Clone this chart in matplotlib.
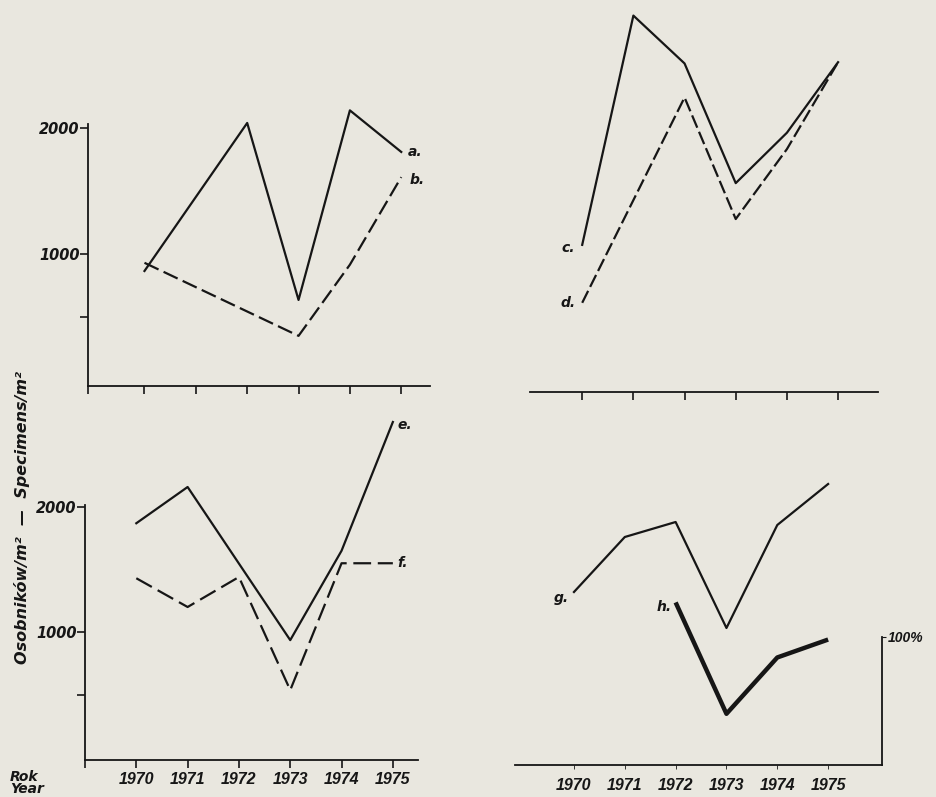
import matplotlib.pyplot as plt
from matplotlib.ticker import FixedLocator

# --- data ---
years = [1970, 1971, 1972, 1973, 1974, 1975]

a_years = [1970, 1972, 1973, 1974, 1975]
a_vals = [865, 2040, 635, 2140, 1810]
b_years = [1970, 1973, 1974, 1975]
b_vals = [930, 350, 915, 1610]

c_years = [1970, 1971, 1972, 1973, 1974, 1975]
c_vals = [1120, 2940, 2560, 1610, 2010, 2570]
d_years = [1970, 1972, 1973, 1974, 1975]
d_vals = [660, 2290, 1325, 1880, 2570]

e_years = [1970, 1971, 1973, 1974, 1975]
e_vals = [1870, 2160, 935, 1650, 2680]
f_years = [1970, 1971, 1972, 1973, 1974, 1975]
f_vals = [1430, 1200, 1440, 535, 1550, 1550]

g_years = [1970, 1971, 1972, 1973, 1974, 1975]
g_vals = [1384, 1824, 1944, 1096, 1920, 2248]
h_years = [1972, 1973, 1974, 1975]
h_pct = [127, 40, 84, 98]

ytick_vals = [500, 1000, 2000]
ytick_labels = ["", "1000", "2000"]

W, H = 937, 797
BG = "#e9e7df"
INK = "#161616"
BI = dict(fontweight="bold", fontstyle="italic", color=INK)
NARROW = ["Liberation Sans", "DejaVu Sans"]

fig = plt.figure(figsize=(W / 100, H / 100), dpi=100, facecolor=BG)


def px_axes(x0, y0, x1, y1):
    return fig.add_axes([x0 / W, 1 - y1 / H, (x1 - x0) / W, (y1 - y0) / H])


def style(ax):
    ax.set_facecolor("none")
    for s in ax.spines.values():
        s.set_color(INK)
        s.set_linewidth(1.3)
    ax.spines["top"].set_visible(False)
    ax.spines["right"].set_visible(False)
    ax.tick_params(colors=INK, width=1.2)


def tag(ax, x, y, txt, dx, dy, ha="left"):
    ax.annotate(txt, (x, y), xytext=(dx, dy), textcoords="offset points",
                ha=ha, va="center", fontsize=10, **BI)


# ---- top left: a, b ----
ax1 = px_axes(88, 95, 430, 386)
style(ax1)
ax1.plot(a_years, a_vals, color=INK, lw=1.6)
ax1.plot(b_years, b_vals, color=INK, lw=1.6, dashes=(7, 2.5))
ax1.set_xlim(1968.9, 1975.56)
ax1.set_ylim(-48, 2262)
ax1.spines["left"].set_bounds(-48, 2030)
ax1.set_xticks([1968.9] + years)
ax1.set_xticklabels([])
ax1.tick_params(axis="x", length=6)
ax1.yaxis.set_major_locator(FixedLocator(ytick_vals))
ax1.set_yticklabels(ytick_labels, fontsize=10.5, **BI)
ax1.tick_params(axis="y", length=6, pad=0)
tag(ax1, a_years[-1], a_vals[-1], "a.", 5, 0)
tag(ax1, b_years[-1], b_vals[-1], "b.", 6, -2)

# ---- bottom left: e, f ----
ax2 = px_axes(85, 405, 418, 760)
style(ax2)
ax2.plot(e_years, e_vals, color=INK, lw=1.6)
ax2.plot(f_years, f_vals, color=INK, lw=1.6, dashes=(8, 3))
ax2.set_xlim(1969, 1975.49)
ax2.set_ylim(-24, 2816)
ax2.spines["left"].set_bounds(-24, 2016)
ax2.set_xticks([1969] + years)
ax2.set_xticklabels([""] + [str(y) for y in years], fontsize=11.5,
                    family=NARROW, fontweight="bold", fontstyle="italic", color=INK)
ax2.tick_params(axis="x", length=6, pad=3)
ax2.yaxis.set_major_locator(FixedLocator(ytick_vals))
ax2.set_yticklabels(ytick_labels, fontsize=10.5, **BI)
ax2.tick_params(axis="y", length=6, pad=0)
tag(ax2, e_years[-1], e_vals[-1], "e.", 3, -2)
tag(ax2, f_years[-1], f_vals[-1], "f.", 3, 0)

# ---- top right: c, d ----
ax3 = px_axes(530, 5, 878, 392)
style(ax3)
ax3.spines["left"].set_visible(False)
ax3.plot(c_years, c_vals, color=INK, lw=1.6)
ax3.plot(d_years, d_vals, color=INK, lw=1.6, dashes=(6, 2))
ax3.set_xlim(1968.98, 1975.78)
ax3.set_ylim(-48, 3024)
ax3.set_xticks(years)
ax3.set_xticklabels([])
ax3.tick_params(axis="x", length=6)
ax3.set_yticks([])
tag(ax3, c_years[0], c_vals[0], "c.", -5, -2, ha="right")
tag(ax3, d_years[0], d_vals[0], "d.", -5, 0, ha="right")

# ---- bottom right: g (specimens), h (%) ----
ax4 = px_axes(515, 430, 882, 765)
style(ax4)
ax4.spines["left"].set_visible(False)
ax4.plot(g_years, g_vals, color=INK, lw=1.6)
ax4.set_xlim(1968.84, 1976.06)
ax4.set_ylim(0, 2680)
ax4.set_yticks([])
ax4.set_xticks(years)
ax4.set_xticklabels([str(y) for y in years], fontsize=11.5,
                    family=NARROW, fontweight="bold", fontstyle="italic", color=INK)
ax4.tick_params(axis="x", length=3, width=0.6, pad=6)
tag(ax4, g_years[0], g_vals[0], "g.", -4, -4, ha="right")

ax5 = ax4.twinx()
ax5.set_facecolor("none")
for s in ["top", "left", "bottom"]:
    ax5.spines[s].set_visible(False)
ax5.spines["right"].set_color(INK)
ax5.spines["right"].set_linewidth(1.3)
ax5.spines["right"].set_bounds(0, 100)
ax5.plot(h_years, h_pct, color=INK, lw=3.2, solid_capstyle="butt")
ax5.set_ylim(0, 261.7)
ax5.set_yticks([100])
ax5.set_yticklabels(["100%"], fontsize=10, family=NARROW,
                    fontweight="bold", fontstyle="italic", color=INK)
ax5.tick_params(axis="y", length=3, pad=1, colors=INK)
tag(ax5, h_years[0], h_pct[0], "h.", -3, -3, ha="right")

# ---- shared texts ----
fig.text(22 / W, 1 - 518 / H, "Osobników/m²  —  Specimens/m²", rotation=90,
         ha="center", va="center", fontsize=11.5, **BI)
fig.text(10 / W, 1 - 770 / H, "Rok\nYear", ha="left", va="top",
         fontsize=10, linespacing=0.85, **BI)

fig.savefig("out.png", dpi=100, facecolor=BG)
